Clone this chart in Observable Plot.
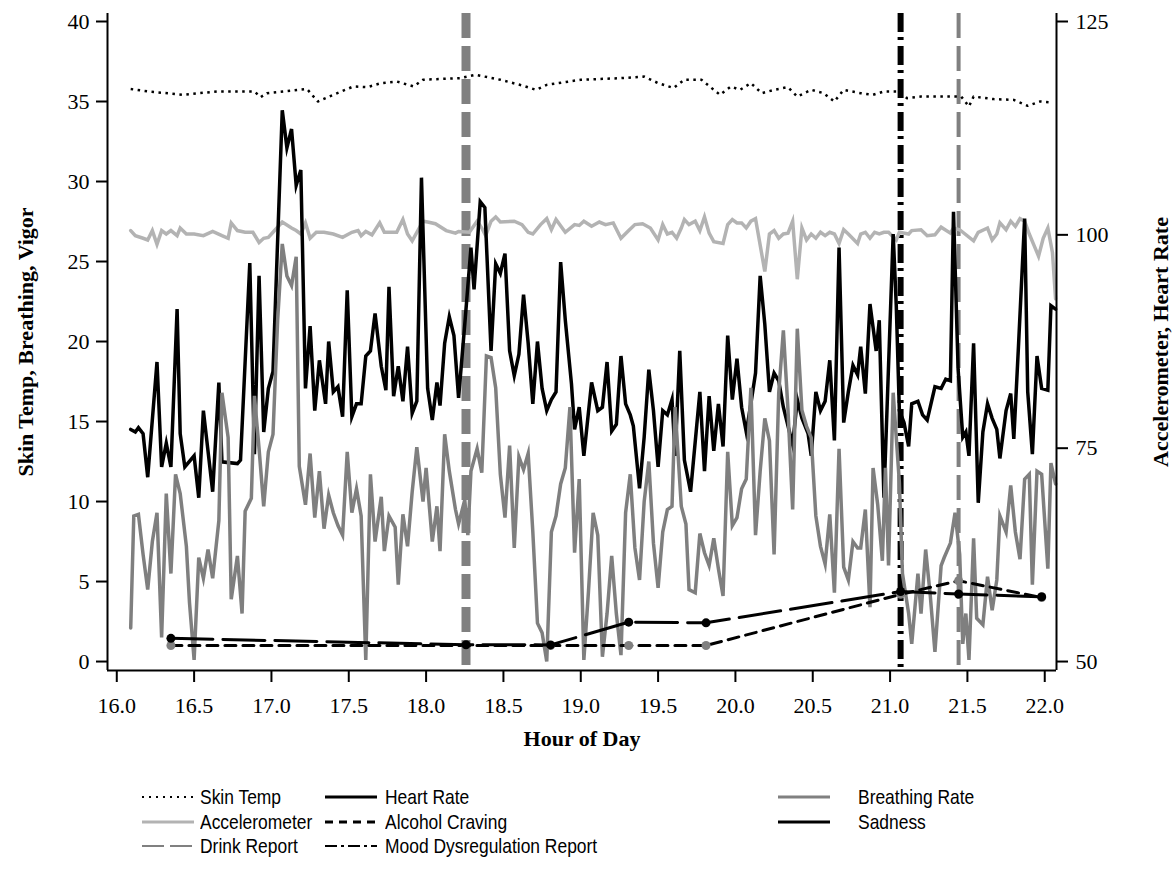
<!DOCTYPE html>
<html><head><meta charset="utf-8">
<script src="https://cdn.jsdelivr.net/npm/d3@7"></script>
<script src="https://cdn.jsdelivr.net/npm/@observablehq/plot@0.6"></script>
<style>
html,body{margin:0;padding:0;background:#fff;}
#wrap{position:relative;width:1175px;height:873px;overflow:hidden;background:#fff;}
#chart{position:absolute;left:0;top:0;}
.legtext{position:absolute;font-family:"Liberation Sans",Arial,sans-serif;font-size:21px;color:#000;white-space:nowrap;line-height:24px;height:24px;transform:scaleX(0.83);transform-origin:0 50%;}
.legsample{position:absolute;}
</style></head><body>
<div id="wrap"><div id="chart"></div><div id="legend"></div></div>
<script>
// ---------------- DATA ----------------
const xTicks = [16.0, 16.5, 17.0, 17.5, 18.0, 18.5, 19.0, 19.5, 20.0, 20.5, 21.0, 21.5, 22.0];
const leftTicks = [0, 5, 10, 15, 20, 25, 30, 35, 40];
const rightTicks = [50, 75, 100, 125];

// Heart rate (right axis, bpm)
const hrHours = [16.09,16.12,16.14,16.17,16.20,16.26,16.29,16.32,16.35,16.39,16.41,16.44,16.50,16.53,16.56,16.62,16.66,16.68,16.78,16.80,16.86,16.89,16.92,16.95,16.98,17.01,17.07,17.10,17.13,17.16,17.19,17.22,17.25,17.28,17.31,17.35,17.37,17.40,17.43,17.46,17.49,17.52,17.55,17.58,17.61,17.64,17.67,17.71,17.74,17.76,17.79,17.82,17.85,17.88,17.91,17.94,17.97,18.01,18.04,18.07,18.09,18.12,18.15,18.18,18.21,18.25,18.29,18.31,18.35,18.38,18.42,18.45,18.48,18.51,18.54,18.57,18.60,18.63,18.66,18.69,18.72,18.75,18.78,18.81,18.84,18.87,18.90,18.94,18.96,18.99,19.02,19.07,19.11,19.14,19.17,19.20,19.23,19.26,19.29,19.32,19.34,19.38,19.41,19.44,19.47,19.50,19.53,19.56,19.59,19.61,19.64,19.67,19.71,19.77,19.80,19.83,19.86,19.89,19.92,19.95,19.98,20.01,20.04,20.07,20.10,20.13,20.16,20.19,20.22,20.25,20.28,20.31,20.37,20.40,20.43,20.47,20.49,20.52,20.55,20.58,20.61,20.64,20.67,20.70,20.73,20.76,20.79,20.81,20.84,20.87,20.91,20.93,20.96,21.02,21.04,21.06,21.09,21.12,21.14,21.18,21.21,21.24,21.29,21.33,21.36,21.39,21.41,21.44,21.47,21.49,21.51,21.54,21.57,21.60,21.63,21.66,21.69,21.71,21.75,21.78,21.80,21.83,21.87,21.89,21.92,21.95,21.98,22.02,22.04,22.07];
const hrValues = [77.2,76.9,77.4,76.7,71.6,85.1,72.8,75.6,72.8,91.3,76.7,72.8,74.1,69.2,79.4,69.9,82.7,73.4,73.2,73.6,96.7,74.3,95.2,76.9,82.0,84.0,114.6,110.2,112.4,105.8,107.6,82.0,89.3,79.4,85.3,80.2,87.5,81.6,82.2,78.7,93.5,78.7,80.2,80.2,85.8,86.4,90.8,84.6,81.8,93.9,81.1,84.6,80.5,86.9,79.1,80.5,106.7,82.0,78.3,82.7,80.0,87.3,90.4,88.2,80.9,89.5,98.5,93.6,103.9,103.2,86.4,96.6,95.5,97.8,86.4,83.5,86.0,93.0,87.3,80.2,87.5,82.0,79.4,80.7,81.6,96.8,90.0,82.5,77.2,79.8,74.1,82.7,79.4,79.8,85.1,77.0,77.8,85.8,80.2,78.9,77.6,70.3,76.3,84.2,79.4,72.8,79.4,78.9,80.7,74.1,86.4,73.6,69.9,81.6,72.3,81.1,74.7,80.2,75.2,88.2,80.7,85.5,79.8,76.9,80.2,83.8,95.2,89.5,81.6,83.8,82.9,79.8,75.4,80.7,78.5,76.7,74.1,81.6,79.4,80.5,85.3,75.9,98.5,78.0,81.6,84.7,83.6,86.9,81.4,91.9,86.4,90.0,69.2,100.1,91.7,79.4,78.0,75.2,80.2,80.5,78.9,78.3,82.2,82.0,83.1,82.9,102.7,84.2,76.3,76.9,74.1,87.3,68.6,76.9,80.2,78.5,77.2,73.8,79.4,81.4,76.1,86.9,101.9,81.6,74.3,85.8,82.0,81.8,91.7,91.3];

// Breathing rate (left axis)
const brHours = [16.09,16.11,16.14,16.17,16.20,16.23,16.26,16.29,16.32,16.35,16.38,16.41,16.45,16.47,16.50,16.53,16.56,16.59,16.62,16.66,16.68,16.72,16.74,16.78,16.81,16.83,16.87,16.89,16.92,16.95,16.98,17.01,17.04,17.07,17.10,17.13,17.16,17.18,17.22,17.25,17.28,17.31,17.34,17.37,17.40,17.43,17.46,17.49,17.52,17.55,17.58,17.61,17.64,17.67,17.71,17.73,17.76,17.80,17.82,17.85,17.88,17.91,17.94,17.98,18.00,18.04,18.07,18.09,18.12,18.15,18.19,18.21,18.25,18.27,18.29,18.33,18.36,18.39,18.42,18.45,18.48,18.51,18.54,18.57,18.60,18.63,18.66,18.69,18.72,18.75,18.78,18.81,18.84,18.87,18.90,18.93,18.96,18.99,19.02,19.05,19.08,19.11,19.14,19.17,19.20,19.23,19.26,19.29,19.32,19.35,19.38,19.41,19.44,19.47,19.50,19.53,19.56,19.59,19.61,19.65,19.68,19.70,19.74,19.77,19.80,19.83,19.86,19.89,19.92,19.95,19.98,20.01,20.04,20.07,20.10,20.13,20.16,20.19,20.22,20.25,20.28,20.31,20.34,20.37,20.40,20.43,20.46,20.49,20.52,20.55,20.58,20.61,20.64,20.67,20.70,20.73,20.76,20.79,20.81,20.84,20.87,20.89,20.92,20.95,20.97,20.99,21.02,21.06,21.08,21.12,21.14,21.18,21.20,21.23,21.26,21.29,21.33,21.35,21.39,21.42,21.45,21.47,21.49,21.51,21.54,21.56,21.60,21.63,21.66,21.69,21.71,21.75,21.78,21.81,21.84,21.87,21.90,21.92,21.95,21.98,22.02,22.04,22.07];
const brValues = [2.1,9.1,9.2,6.7,4.5,7.5,9.3,1.5,10.5,5.5,11.7,10.5,7.2,3.7,0.1,6.5,5.2,7.0,5.2,8.8,16.8,14.0,3.9,6.6,3.0,9.4,10.2,16.6,13.3,9.7,13.1,14.2,21.3,26.1,24.1,23.5,25.3,12.2,9.8,13.0,9.0,11.9,8.3,10.4,9.3,8.5,7.9,13.1,9.3,10.8,9.1,0.1,11.7,7.5,10.3,6.9,9.1,8.4,4.8,9.2,7.2,10.6,13.4,10.0,12.1,7.5,9.7,6.9,14.2,11.9,9.5,8.6,10.1,7.9,11.9,13.3,11.8,19.1,19.0,17.1,11.7,9.0,13.5,7.1,12.8,12.0,13.0,8.1,2.4,1.8,0.0,8.1,9.1,11.1,12.1,15.9,6.8,11.4,0.1,4.4,9.3,7.9,0.3,3.0,6.6,3.0,0.4,9.3,11.7,7.1,5.1,10.0,12.5,7.4,4.6,8.1,9.5,9.7,15.9,9.7,8.6,4.5,4.3,8.0,6.8,6.0,7.7,5.8,4.1,13.1,8.5,9.0,10.8,11.4,17.1,7.9,11.9,15.2,13.8,6.7,16.8,20.7,15.7,9.5,20.8,15.7,14.7,14.0,9.1,7.2,6.1,9.2,4.3,13.3,5.9,5.1,7.5,7.1,7.1,9.5,3.4,12.1,9.8,6.3,12.1,6.0,16.8,11.2,5.5,3.0,1.1,5.5,3.0,7.0,4.1,0.6,6.0,6.5,7.4,9.3,6.7,1.1,3.0,0.1,7.7,2.7,2.3,5.3,3.2,5.1,9.1,8.1,11.0,8.1,6.4,11.4,11.7,4.8,11.9,11.7,5.8,12.4,11.1];

// Accelerometer (right axis)
const accHours = [16.09,16.12,16.17,16.20,16.23,16.26,16.29,16.32,16.35,16.39,16.41,16.45,16.50,16.56,16.62,16.68,16.72,16.74,16.78,16.83,16.88,16.92,16.95,16.98,17.01,17.07,17.13,17.16,17.19,17.22,17.25,17.29,17.34,17.40,17.46,17.52,17.56,17.58,17.61,17.65,17.70,17.73,17.81,17.85,17.88,17.91,17.98,18.01,18.06,18.13,18.19,18.21,18.28,18.33,18.36,18.385,18.42,18.45,18.48,18.57,18.62,18.66,18.69,18.74,18.78,18.81,18.84,18.90,18.96,18.99,19.02,19.07,19.12,19.16,19.21,19.26,19.31,19.35,19.40,19.45,19.50,19.53,19.56,19.59,19.62,19.65,19.67,19.70,19.74,19.77,19.80,19.83,19.86,19.92,19.95,19.98,20.01,20.04,20.07,20.10,20.13,20.19,20.22,20.25,20.28,20.31,20.34,20.37,20.40,20.43,20.46,20.49,20.52,20.55,20.58,20.61,20.64,20.67,20.70,20.73,20.79,20.81,20.84,20.87,20.90,20.93,20.96,20.99,21.04,21.06,21.12,21.14,21.20,21.24,21.29,21.33,21.39,21.41,21.45,21.54,21.57,21.63,21.66,21.69,21.71,21.75,21.78,21.81,21.84,21.87,21.90,21.93,21.96,21.99,22.02,22.05,22.07];
const accValues = [100.5,99.9,99.6,99.4,100.5,98.9,100.5,100.1,100.5,99.9,100.8,100.1,100.1,99.9,100.4,99.9,99.6,101.4,100.5,100.3,100.3,99.1,99.6,99.7,100.3,101.5,100.8,100.5,100.1,101.4,99.6,100.3,100.3,100.1,99.7,100.3,100.5,99.9,100.4,100.0,101.4,100.3,100.3,101.8,100.1,99.3,101.6,101.5,101.3,100.5,100.2,100.4,100.3,101.6,100.8,99.9,101.6,102.1,101.5,101.6,101.2,100.3,100.1,101.2,101.9,100.6,101.8,100.3,101.2,101.1,101.6,101.0,101.5,101.2,101.4,99.6,100.5,101.2,101.3,100.8,99.4,101.2,100.1,100.3,99.6,100.8,101.8,101.2,101.6,100.5,102.1,100.2,99.2,99.0,101.2,101.8,101.4,101.4,100.8,101.6,101.9,95.7,100.1,100.5,99.6,100.1,100.2,101.6,94.8,100.8,99.4,100.1,99.6,100.3,99.9,100.3,100.1,99.0,100.6,100.1,99.0,100.1,100.3,99.6,100.3,100.1,100.3,100.3,99.4,100.3,100.1,100.5,100.6,99.9,100.0,100.9,100.2,100.8,100.6,99.3,100.3,100.8,99.4,100.1,101.4,100.6,101.6,101.0,101.9,101.6,100.1,98.8,97.5,99.6,100.8,97.9,92.5];

// Skin temperature (left axis)
const stHours = [16.09,16.20,16.43,16.65,16.89,16.93,16.97,17.23,17.30,17.40,17.53,17.62,17.71,17.81,17.92,17.98,18.22,18.32,18.48,18.63,18.71,18.78,19.00,19.26,19.41,19.50,19.60,19.67,19.78,19.90,19.97,20.03,20.10,20.17,20.25,20.34,20.40,20.49,20.57,20.64,20.70,20.81,20.89,20.96,21.05,21.11,21.20,21.37,21.46,21.51,21.54,21.67,21.80,21.89,21.97,22.05];
const stValues = [35.78,35.63,35.42,35.63,35.63,35.27,35.52,35.78,35.0,35.42,35.94,35.9,36.15,36.25,35.94,36.36,36.46,36.67,36.36,35.98,35.73,36.04,36.36,36.46,36.56,36.15,35.84,36.36,36.36,35.42,35.94,35.73,36.15,35.52,35.73,35.9,35.31,35.73,35.52,35.0,35.73,35.52,35.42,35.63,35.63,35.21,35.31,35.31,35.31,34.69,35.31,35.15,35.1,34.73,35.0,34.94];

// Self-reports (left axis)
const reportHours = [16.35, 18.258, 18.805, 19.31, 19.81, 21.068, 21.443, 21.98];
const cravingValues = [1.0, 1.0, 1.0, 1.0, 1.0, 4.2, 5.05, 4.0];
const sadnessValues = [1.45, 1.05, 1.04, 2.46, 2.42, 4.38, 4.22, 4.05];

// Event reports
const drinkHours = [18.258, 21.443];
const moodHours = [21.068];

// ---------------- STYLE ----------------
const drinkLineWidths = [9, 4];
const xDomain = [15.94, 22.076];
const yDomain = [-0.56, 40.5];
const rightToLeft = b => (b - 50) / 1.875;   // right axis (50..125) onto left axis (0..40)
const leftToRight = v => 50 + v * 1.875;

const zip = (hs, vs) => hs.map((h, i) => ({h, v: vs[i]}));
const hr = zip(hrHours, hrValues);
const br = zip(brHours, brValues);
const acc = zip(accHours, accValues);
const st = zip(stHours, stValues);
const crav = zip(reportHours, cravingValues);
const sad = zip(reportHours, sadnessValues);
const drinks = drinkHours.map((h, i) => ({h, w: drinkLineWidths[i]}));

const serif = "'Liberation Serif','Times New Roman',serif";
const LW = 3.5;

const chart = Plot.plot({
  width: 1175,
  height: 770,
  marginLeft: 107,
  marginRight: 119,
  marginTop: 13,
  marginBottom: 100,
  x: {domain: xDomain},
  y: {domain: yDomain},
  style: {fontFamily: serif, fontSize: "22px", color: "black", background: "white", overflow: "visible"},
  marks: [
    Plot.ruleX(drinks, {x: "h", stroke: "#808080", strokeWidth: "w", strokeDasharray: "25,8"}),
    Plot.ruleX(moodHours, {stroke: "black", strokeWidth: 6, strokeDasharray: "19,5,3,6"}),
    Plot.line(st, {x: "h", y: "v", stroke: "black", strokeWidth: 2.5, strokeDasharray: "2.5,4.5", strokeLinecap: "butt"}),
    Plot.line(acc, {x: "h", y: d => rightToLeft(d.v), stroke: "#b3b3b3", strokeWidth: LW, strokeLinejoin: "miter", strokeMiterlimit: 6}),
    Plot.line(hr, {x: "h", y: d => rightToLeft(d.v), stroke: "black", strokeWidth: LW, strokeLinejoin: "miter", strokeMiterlimit: 6}),
    Plot.line(br, {x: "h", y: "v", stroke: "#7f7f7f", strokeWidth: LW, strokeLinejoin: "miter", strokeMiterlimit: 6}),
    Plot.line(crav, {x: "h", y: "v", stroke: "black", strokeWidth: 3, strokeDasharray: "11,7"}),
    Plot.dot(crav, {x: "h", y: "v", r: 4.5, fill: "#808080", stroke: "none"}),
    Plot.line(sad, {x: "h", y: "v", stroke: "black", strokeWidth: 3, strokeDasharray: "42,10"}),
    Plot.dot(sad, {x: "h", y: "v", r: 4.5, fill: "black", stroke: "none"}),
    Plot.ruleX([xDomain[0], xDomain[1]], {stroke: "black", strokeWidth: 2}),
    Plot.ruleY([yDomain[0]], {stroke: "black", strokeWidth: 2}),
    Plot.axisX({ticks: xTicks, tickFormat: d => d.toFixed(1), tickSize: 12, tickPadding: 15, strokeWidth: 2, label: null}),
    Plot.axisY({anchor: "left", ticks: leftTicks, tickSize: 11, tickPadding: 7, strokeWidth: 2, label: null}),
    Plot.axisY({anchor: "right", ticks: rightTicks.map(rightToLeft), tickFormat: d => String(Math.round(leftToRight(d))), tickSize: 11, tickPadding: 8, strokeWidth: 2, label: null}),
    Plot.text(["Skin Temp, Breathing, Vigor"], {frameAnchor: "left", textAnchor: "middle", dx: -82, rotate: -90, fontWeight: "bold", fontSize: 22, fill: "black"}),
    Plot.text(["Accelerometer, Heart Rate"], {frameAnchor: "right", textAnchor: "middle", dx: 104, rotate: -90, fontWeight: "bold", fontSize: 22, fill: "black"}),
    Plot.text(["Hour of Day"], {frameAnchor: "bottom", dy: 75, fontWeight: "bold", fontSize: 22, fill: "black"})
  ]
});
document.getElementById("chart").appendChild(chart);

// ---------------- LEGEND ----------------
const legendItems = [
  {label: "Skin Temp", stroke: "black", width: 2, dash: "2,5"},
  {label: "Accelerometer", stroke: "#b3b3b3", width: 3, dash: null},
  {label: "Drink Report", stroke: "#808080", width: 2, dash: "22,6"},
  {label: "Heart Rate", stroke: "black", width: 3, dash: null},
  {label: "Alcohol Craving", stroke: "black", width: 3, dash: "8,6"},
  {label: "Mood Dysregulation Report", stroke: "black", width: 2, dash: "12,4,3,4"},
  {label: "Breathing Rate", stroke: "#808080", width: 3, dash: null},
  {label: "Sadness", stroke: "black", width: 3, dash: null}
];
const legCols = [{sx: 142, tx: 200}, {sx: 325, tx: 385}, {sx: 778, tx: 858}];
const legRows = [797, 822, 846];
const legend = document.getElementById("legend");
legendItems.forEach((it, i) => {
  const col = legCols[Math.floor(i / 3)];
  const cy = legRows[i % 3];
  const s = document.createElementNS("http://www.w3.org/2000/svg", "svg");
  s.setAttribute("width", 52); s.setAttribute("height", 10);
  s.setAttribute("class", "legsample");
  s.style.left = col.sx + "px"; s.style.top = (cy - 5) + "px";
  const l = document.createElementNS("http://www.w3.org/2000/svg", "line");
  l.setAttribute("x1", 0); l.setAttribute("x2", 52); l.setAttribute("y1", 5); l.setAttribute("y2", 5);
  l.setAttribute("stroke", it.stroke); l.setAttribute("stroke-width", it.width);
  if (it.dash) l.setAttribute("stroke-dasharray", it.dash);
  s.appendChild(l);
  legend.appendChild(s);
  const t = document.createElement("div");
  t.className = "legtext";
  t.textContent = it.label;
  t.style.left = col.tx + "px"; t.style.top = (cy - 12) + "px";
  legend.appendChild(t);
});
</script>
</body></html>
